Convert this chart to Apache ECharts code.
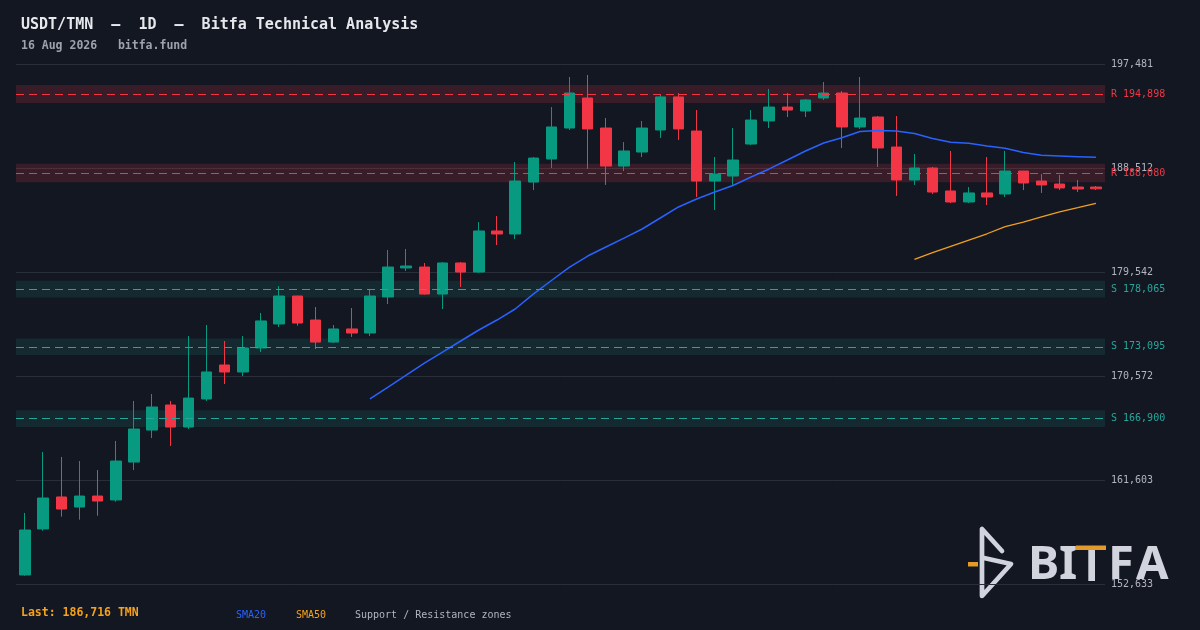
<!DOCTYPE html>
<html>
<head>
<meta charset="utf-8">
<script src="https://cdn.jsdelivr.net/npm/echarts@6/dist/echarts.min.js"></script>
<style>
  html, body { margin: 0; padding: 0; background: #131722; }
  #chart { width: 1200px; height: 630px; }
</style>
</head>
<body>
<div id="chart"></div>
<script>
// ---- data ----
const startDate = new Date(Date.UTC(2026, 5, 18));
const categories = [];
for (let i = 0; i < 60; i++) {
  const d = new Date(startDate.getTime() + i * 86400000);
  categories.push(d.toISOString().slice(0, 10));
}
// [open, close, low, high]
const ohlc = [
  [153410,157290,153350,158760],[157380,160050,157230,164020],[160140,159100,158440,163590],
  [159270,160220,158180,163240],[160220,159790,158520,162460],[159880,163240,159730,164970],
  [163150,166000,162460,168420],[165910,167900,165220,169020],[168070,166170,164530,168420],
  [166170,168670,166000,174020],[168590,170920,168420,174970],[171520,170920,169880,173590],
  [170920,172990,170570,174020],[172990,175320,172640,176010],[175060,177470,174800,178330],
  [177470,175140,174910,177500],[175400,173500,172900,176520],[173500,174630,173420,174970],
  [174630,174280,173940,176440],[174280,177470,174020,177990],[177390,179970,176780,181440],
  [179890,180060,179630,181530],[179970,177640,177600,180320],[177640,180320,176350,180400],
  [180320,179540,178250,180400],[179540,183080,179460,183850],[183080,182820,181870,184370],
  [182820,187390,182390,189030],[187300,189370,186610,189460],[189290,192050,188510,193770],
  [191960,194980,191790,196360],[194550,191880,188430,196530],[191960,188680,187050,192820],
  [188680,189980,188250,190750],[189890,191960,189460,192570],[191790,194640,191100,194890],
  [194640,191880,190930,194980],[191700,187390,186010,193510],[187390,187990,184890,189460],
  [187820,189200,187050,191960],[190580,192650,190500,193510],[192570,193770,191960,195330],
  [193770,193510,192910,194980],[193430,194380,192910,194460],[194550,194980,194380,195930],
  [194980,192050,190240,195150],[192050,192820,191880,196360],[192910,190240,188600,193000],
  [190320,187480,186100,193000],[187480,188510,187050,189720],[188510,186440,186270,188600],
  [186530,185580,185490,189980],[185580,186360,185490,186870],[186360,186010,185320,189460],
  [186270,188250,186010,189980],[188250,187220,186610,188250],[187390,187050,186360,187990],
  [187130,186790,186610,187910],[186870,186700,186440,187480],[186870,186716,186610,186960]
];
const sma20 = Array(19).fill(null).concat([
  168590,169610,170640,171690,172640,173590,174540,175400,176350,177640,
  178810,179970,180920,181700,182470,183250,184200,185150,185840,186440,
  187000,187740,188430,189200,189980,190670,191120,191660,191750,191700,
  191490,191060,190730,190640,190410,190210,189850,189610,189550,189490,189430
]);
const sma50 = Array(49).fill(null).concat([
  180640,181210,181760,182300,182840,183450,183850,184290,184720,185090,185470
]);
const resistanceLevels = [194898, 188080];
const resistanceHalf = [780, 800];
const supportLevels = [178065, 173095, 166900];
const supportHalf = [720, 720, 720];
const yMin = 152633, yMax = 197481.4, yInterval = 8969.68;
const lastPrice = 186716;

// ---- colors ----
const BG = '#131722', UP = '#089981', DOWN = '#f23645';
const R_LINE = '#f23645', S_LINE = '#26a69a';
const LOGO = '#d1d4dc', LOGO_ORANGE = '#e39a2b';
const fmt = v => Math.round(v).toLocaleString('en-US');
const MONO = '"DejaVu Sans Mono", "Liberation Mono", monospace';
const LOGO_FONT = 'bold 47px "Noto Sans", sans-serif';

const markAreaData = [];
resistanceLevels.forEach((v, i) => markAreaData.push([
  { yAxis: v - resistanceHalf[i], itemStyle: { color: 'rgba(242,54,69,0.17)' } },
  { yAxis: v + resistanceHalf[i] }
]));
supportLevels.forEach((v, i) => markAreaData.push([
  { yAxis: v - supportHalf[i], itemStyle: { color: 'rgba(38,166,154,0.13)' } },
  { yAxis: v + supportHalf[i] }
]));
const markLineData = [];
resistanceLevels.forEach(v => markLineData.push({
  yAxis: v, lineStyle: { color: R_LINE, type: [8, 5], width: 1 },
  label: { formatter: 'R ' + fmt(v), color: R_LINE }
}));
supportLevels.forEach(v => markLineData.push({
  yAxis: v, lineStyle: { color: S_LINE, type: [8, 5], width: 1 },
  label: { formatter: 'S ' + fmt(v), color: S_LINE }
}));

const chart = echarts.init(document.getElementById('chart'), null, { renderer: 'canvas' });
chart.setOption({
  backgroundColor: BG,
  animation: false,
  title: [
    { text: 'USDT/TMN  —  1D  —  Bitfa Technical Analysis', left: 21, top: 18, padding: 0,
      textStyle: { color: '#e6e8ec', fontFamily: MONO, fontSize: 15, fontWeight: 'bold' } },
    { text: '16 Aug 2026   bitfa.fund', left: 21, top: 40, padding: 0,
      textStyle: { color: '#9ea2ab', fontFamily: MONO, fontSize: 11.5, fontWeight: 'bold' } }
  ],
  grid: { left: 16, right: 95, top: 64, bottom: 46, containLabel: false },
  xAxis: {
    type: 'category', data: categories, boundaryGap: true,
    axisLine: { show: false }, axisTick: { show: false }, axisLabel: { show: false },
    splitLine: { show: false }
  },
  yAxis: {
    type: 'value', position: 'right', min: yMin, max: yMax, interval: yInterval, scale: true,
    axisLine: { show: false }, axisTick: { show: false },
    axisLabel: { color: '#b2b5be', fontFamily: MONO, fontSize: 10, margin: 6, formatter: fmt },
    splitLine: { show: true, lineStyle: { color: '#2a2e39', width: 1 } }
  },
  series: [
    {
      type: 'line', data: categories.map(() => null), z: 1, silent: true,
      markArea: { silent: true, data: markAreaData },
      markLine: {
        silent: true, symbol: ['none', 'none'],
        label: { position: 'end', distance: 6, fontFamily: MONO, fontSize: 10 },
        data: markLineData
      }
    },
    {
      type: 'candlestick', data: ohlc, z: 3, barWidth: 11,
      itemStyle: { color: UP, color0: DOWN, borderColor: UP, borderColor0: DOWN, borderWidth: 1 }
    },
    {
      type: 'line', data: sma20, z: 4, showSymbol: false,
      lineStyle: { color: '#2962ff', width: 1.5 }
    },
    {
      type: 'line', data: sma50, z: 4, showSymbol: false,
      lineStyle: { color: '#f0a020', width: 1.3 }
    }
  ],
  graphic: [
    { type: 'text', left: 21, top: 607,
      style: { text: 'Last: ' + fmt(lastPrice) + ' TMN', fill: '#f7a21b', font: 'bold 11.5px ' + MONO } },
    { type: 'text', left: 236, top: 610,
      style: { text: 'SMA20', fill: '#2962ff', font: '10px ' + MONO } },
    { type: 'text', left: 296, top: 610,
      style: { text: 'SMA50', fill: '#f7a21b', font: '10px ' + MONO } },
    { type: 'text', left: 355, top: 610,
      style: { text: 'Support / Resistance zones', fill: '#b2b5be', font: '10px ' + MONO } },
    // watermark logo
    { type: 'group', z: 10, children: [
      { type: 'polyline', shape: { points: [[1002, 551], [982, 529], [982, 596], [1011, 564], [984, 558]] },
        style: { stroke: LOGO, lineWidth: 4.7, fill: null, lineJoin: 'round', lineCap: 'round' } },
      { type: 'rect', shape: { x: 968, y: 562, width: 10, height: 4.5 }, style: { fill: LOGO_ORANGE } },
      { type: 'text', x: 1028, y: 565.5,
        style: { text: 'B', fill: LOGO, font: LOGO_FONT, verticalAlign: 'middle', align: 'left' } },
      { type: 'text', x: 1059, y: 565.5,
        style: { text: 'I', fill: LOGO, font: LOGO_FONT, verticalAlign: 'middle', align: 'left' } },
      { type: 'rect', shape: { x: 1076, y: 545.5, width: 30, height: 4.5 }, style: { fill: LOGO_ORANGE } },
      { type: 'rect', shape: { x: 1088.3, y: 550, width: 6.7, height: 31 }, style: { fill: LOGO } },
      { type: 'text', x: 1108, y: 565.5,
        style: { text: 'F', fill: LOGO, font: LOGO_FONT, verticalAlign: 'middle', align: 'left' } },
      { type: 'text', x: 1136, y: 565.5,
        style: { text: 'A', fill: LOGO, font: LOGO_FONT, verticalAlign: 'middle', align: 'left' } }
    ]}
  ]
});
</script>
</body>
</html>
